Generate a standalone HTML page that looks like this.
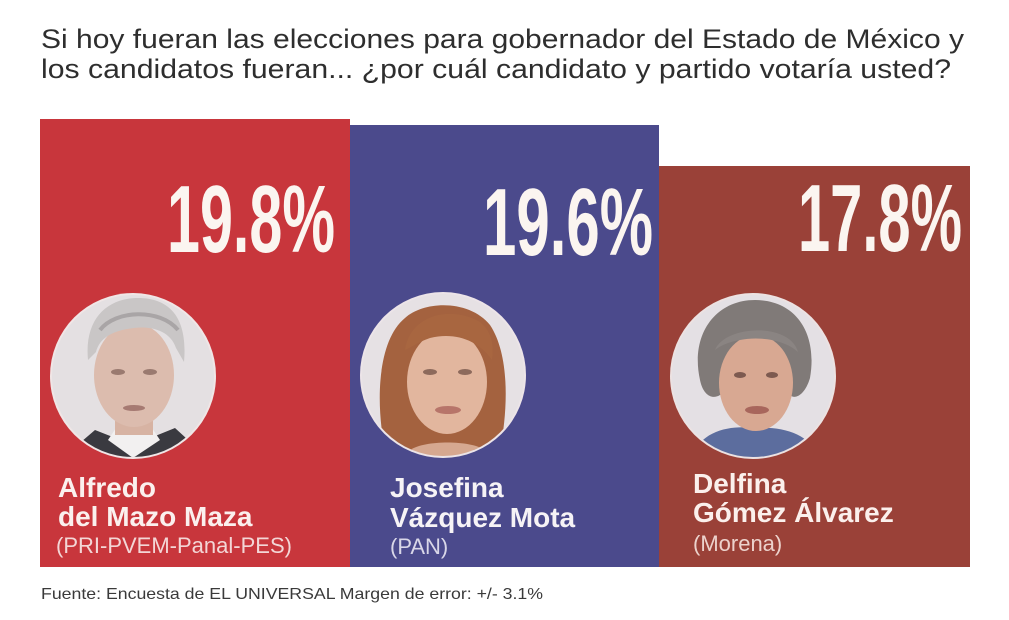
<!DOCTYPE html>
<html>
<head>
<meta charset="utf-8">
<style>
  html,body{margin:0;padding:0;background:#ffffff;}
  svg{display:block;}
  .t{font-family:"Liberation Sans",sans-serif;}
</style>
</head>
<body>
<svg width="1009" height="620" viewBox="0 0 1009 620" xmlns="http://www.w3.org/2000/svg">
  <defs>
    <clipPath id="c1"><circle cx="133" cy="376" r="81"/></clipPath>
    <clipPath id="c2"><circle cx="443" cy="375" r="81"/></clipPath>
    <clipPath id="c3"><circle cx="753" cy="376" r="81"/></clipPath>
  </defs>
  <rect x="0" y="0" width="1009" height="620" fill="#ffffff"/>

  <!-- Title -->
  <text class="t" x="41" y="48" font-size="27" fill="#2e2e2e" textLength="923" lengthAdjust="spacingAndGlyphs">Si hoy fueran las elecciones para gobernador del Estado de México y</text>
  <text class="t" x="41" y="78" font-size="27" fill="#2e2e2e" textLength="910" lengthAdjust="spacingAndGlyphs">los candidatos fueran... ¿por cuál candidato y partido votaría usted?</text>

  <!-- Bars -->
  <rect x="40" y="119" width="310" height="448" fill="#c8363c"/>
  <rect x="350" y="125" width="309" height="442" fill="#4b4a8c"/>
  <rect x="659" y="166" width="311" height="401" fill="#9a4138"/>

  <!-- Percentages -->
  <text class="t" x="167" y="252" font-size="96" font-weight="bold" fill="#fbf5f0" textLength="168" lengthAdjust="spacingAndGlyphs">19.8%</text>
  <text class="t" x="483" y="255" font-size="96" font-weight="bold" fill="#fbf5f0" textLength="170" lengthAdjust="spacingAndGlyphs">19.6%</text>
  <text class="t" x="798" y="251" font-size="96" font-weight="bold" fill="#fbf5f0" textLength="164" lengthAdjust="spacingAndGlyphs">17.8%</text>

  <!-- Photo 1: Alfredo -->
  <circle cx="133" cy="376" r="83" fill="#f0e6e6"/>
  <g clip-path="url(#c1)">
    <rect x="50" y="293" width="166" height="166" fill="#e4e0e2"/>
    <path d="M60 460 L95 430 L133 445 L175 428 L210 460 Z" fill="#3a3a40"/>
    <path d="M108 440 L133 458 L160 440 L150 425 L118 425 Z" fill="#f2f0f0"/>
    <rect x="115" y="405" width="38" height="30" fill="#d7b3a3"/>
    <ellipse cx="134" cy="375" rx="40" ry="52" fill="#dcbcae"/>
    <path d="M88 360 C84 318 108 298 138 298 C170 298 188 318 184 362 L176 348 C170 330 150 326 134 328 C116 330 100 336 96 352 Z" fill="#c9c6c6"/>
    <path d="M100 330 C115 310 160 308 178 330" stroke="#a9a5a6" stroke-width="4" fill="none"/>
    <ellipse cx="118" cy="372" rx="7" ry="3" fill="#9a7a70"/>
    <ellipse cx="150" cy="372" rx="7" ry="3" fill="#9a7a70"/>
    <ellipse cx="134" cy="408" rx="11" ry="3" fill="#a67a72"/>
  </g>

  <!-- Photo 2: Josefina -->
  <circle cx="443" cy="375" r="83" fill="#ece4e8"/>
  <g clip-path="url(#c2)">
    <rect x="360" y="292" width="166" height="166" fill="#e6e1e4"/>
    <path d="M385 450 C375 400 378 340 405 318 C425 300 470 300 490 325 C510 355 508 410 500 450 Z" fill="#a4623f"/>
    <ellipse cx="447" cy="382" rx="40" ry="52" fill="#e2b69e"/>
    <path d="M405 350 C410 315 450 305 480 322 C492 332 494 345 492 360 C478 340 455 332 430 338 C418 342 410 348 405 350 Z" fill="#a86640"/>
    <ellipse cx="430" cy="372" rx="7" ry="3" fill="#8d6a5c"/>
    <ellipse cx="465" cy="372" rx="7" ry="3" fill="#8d6a5c"/>
    <ellipse cx="448" cy="410" rx="13" ry="4" fill="#b7756a"/>
    <path d="M410 450 C425 440 470 440 485 450 L485 460 L410 460 Z" fill="#d6a890"/>
  </g>

  <!-- Photo 3: Delfina -->
  <circle cx="753" cy="376" r="83" fill="#ece2e2"/>
  <g clip-path="url(#c3)">
    <rect x="670" y="293" width="166" height="166" fill="#e4e0e4"/>
    <path d="M690 460 C700 430 730 425 755 428 C785 426 812 435 820 460 Z" fill="#5c6d9e"/>
    <path d="M700 380 C690 335 715 300 755 300 C795 300 818 332 810 378 C805 395 795 400 790 395 L720 395 C712 400 703 395 700 380 Z" fill="#807a78"/>
    <ellipse cx="756" cy="383" rx="37" ry="48" fill="#d8a892"/>
    <path d="M715 350 C725 325 790 322 798 352 C785 340 760 336 740 340 C728 342 720 346 715 350 Z" fill="#8a8482"/>
    <ellipse cx="740" cy="375" rx="6" ry="3" fill="#7d5a50"/>
    <ellipse cx="772" cy="375" rx="6" ry="3" fill="#7d5a50"/>
    <ellipse cx="757" cy="410" rx="12" ry="4" fill="#a8665c"/>
  </g>

  <!-- Names: red -->
  <text class="t" x="58" y="497" font-size="28" font-weight="bold" fill="#fbf0ee">Alfredo</text>
  <text class="t" x="58" y="526" font-size="28" font-weight="bold" fill="#fbf0ee">del Mazo Maza</text>
  <text class="t" x="56" y="553" font-size="22" fill="#f3d6d6">(PRI-PVEM-Panal-PES)</text>

  <!-- Names: blue -->
  <text class="t" x="390" y="497" font-size="28" font-weight="bold" fill="#f6f3f6">Josefina</text>
  <text class="t" x="390" y="527" font-size="28" font-weight="bold" fill="#f6f3f6">Vázquez Mota</text>
  <text class="t" x="390" y="554" font-size="22" fill="#d9d7e8">(PAN)</text>

  <!-- Names: brown -->
  <text class="t" x="693" y="493" font-size="28" font-weight="bold" fill="#fbf0ec">Delfina</text>
  <text class="t" x="693" y="522" font-size="28" font-weight="bold" fill="#fbf0ec">Gómez Álvarez</text>
  <text class="t" x="693" y="551" font-size="22" fill="#ecd2cc">(Morena)</text>

  <!-- Footer -->
  <text class="t" x="41" y="599" font-size="16" fill="#3a3a3a" textLength="502" lengthAdjust="spacingAndGlyphs">Fuente: Encuesta de EL UNIVERSAL Margen de error: +/- 3.1%</text>
</svg>
</body>
</html>
